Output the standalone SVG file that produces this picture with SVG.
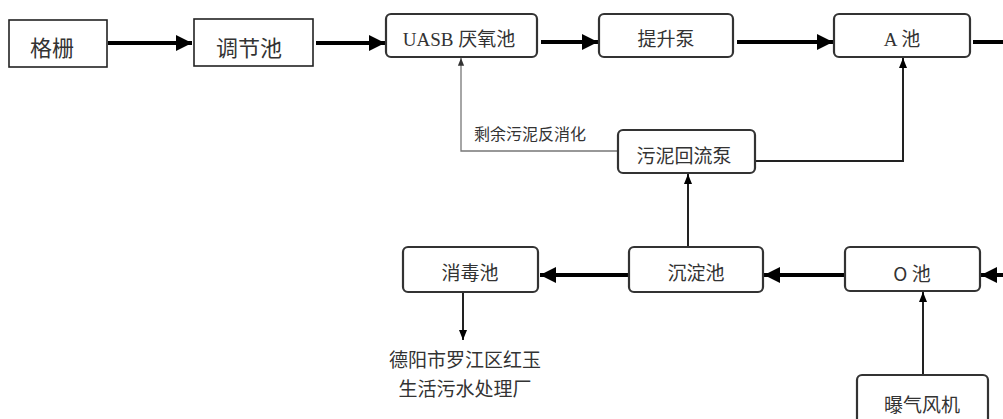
<svg xmlns="http://www.w3.org/2000/svg" width="1003" height="419" viewBox="0 0 1003 419">
<defs>
<marker id="ah" viewBox="0 0 10 10" refX="10" refY="5" markerWidth="4" markerHeight="4" markerUnits="strokeWidth" orient="auto"><path d="M0,0 L10,5 L0,10 z" fill="#000"/></marker>
<marker id="ahs" viewBox="0 0 10 10" refX="10" refY="5" markerWidth="5" markerHeight="5" markerUnits="strokeWidth" orient="auto"><path d="M0,1 L10,5 L0,9 z" fill="#000"/></marker>
<marker id="ahg" viewBox="0 0 10 10" refX="10" refY="5" markerWidth="6" markerHeight="6" markerUnits="strokeWidth" orient="auto"><path d="M0,1 L10,5 L0,9 z" fill="#333"/></marker>
</defs>
<style>
.sq{fill:#fff;stroke:#222;stroke-width:1.6}
.rd{fill:#fff;stroke:#333;stroke-width:2.2}
.t{font-family:"Noto Sans CJK SC",sans-serif;font-size:19px;fill:#333;text-anchor:middle;dominant-baseline:central}
.ts{font-family:"Liberation Serif","Noto Sans CJK SC",serif;font-size:19px;fill:#333;text-anchor:middle;dominant-baseline:central}
.big{font-size:22px}
.thick{stroke:#000;stroke-width:4;fill:none}
.thin{stroke:#222;stroke-width:2;fill:none}
.gray{stroke:#777;stroke-width:1.3;fill:none}
</style>
<g id="connectors">
<line class="thick" x1="108" y1="43" x2="192" y2="43" marker-end="url(#ah)"/>
<line class="thick" x1="316" y1="43" x2="385" y2="43" marker-end="url(#ah)"/>
<line class="thick" x1="541" y1="42" x2="598" y2="42" marker-end="url(#ah)"/>
<line class="thick" x1="737" y1="42" x2="833" y2="42" marker-end="url(#ah)"/>
<line class="thick" x1="973" y1="42" x2="1003" y2="42"/>
<line class="thick" x1="1003" y1="275" x2="981" y2="275" marker-end="url(#ah)"/>
<line class="thick" x1="844" y1="275" x2="764" y2="275" marker-end="url(#ah)"/>
<line class="thick" x1="628" y1="275" x2="540" y2="275" marker-end="url(#ah)"/>
<polyline class="thin" points="756,161 903,161 903,58" marker-end="url(#ahs)"/>
<line class="thin" x1="688" y1="247" x2="688" y2="174" marker-end="url(#ahs)"/>
<line class="thin" x1="923" y1="375" x2="923" y2="292" marker-end="url(#ahs)"/>
<line class="thin" x1="463" y1="293" x2="463" y2="340" marker-end="url(#ahs)"/>
<polyline class="gray" points="618,151 461,151 461,58" marker-end="url(#ahg)"/>
</g>
<g id="n1"><rect class="sq" x="9" y="20" width="98" height="47"/><text class="t big" x="52" y="46">格栅</text></g>
<g id="n2"><rect class="sq" x="194" y="19" width="119" height="47"/><text class="t big" x="249" y="46">调节池</text></g>
<g id="n3"><rect class="rd" x="386" y="14" width="151" height="43" rx="5"/><text class="ts" x="459" y="39">UASB 厌氧池</text></g>
<g id="n4"><rect class="rd" x="599" y="14" width="134" height="43" rx="5"/><text class="ts" x="666" y="39">提升泵</text></g>
<g id="n5"><rect class="rd" x="834" y="14" width="136" height="43" rx="5"/><text class="ts" x="902" y="39">A 池</text></g>
<g id="n6"><rect class="rd" x="618" y="130" width="137" height="43" rx="5"/><text class="t" x="684" y="154">污泥回流泵</text></g>
<g id="n6l"><text class="t" x="530" y="133" style="font-size:16px">剩余污泥反消化</text></g>
<g id="n7"><rect class="rd" x="403" y="247" width="135" height="45" rx="5"/><text class="t" x="470" y="271">消毒池</text></g>
<g id="n8"><rect class="rd" x="629" y="247" width="134" height="45" rx="5"/><text class="t" x="696" y="271">沉淀池</text></g>
<g id="n9"><rect class="rd" x="845" y="247" width="135" height="44" rx="5"/><text class="t" x="912" y="272">O 池</text></g>
<g id="n10"><rect class="rd" x="857" y="375" width="131" height="60" rx="5"/><text class="t" x="922" y="403">曝气风机</text></g>
<g id="n11"><text class="t" x="465" y="358">德阳市罗江区红玉</text><text class="t" x="465" y="387">生活污水处理厂</text></g>
</svg>
